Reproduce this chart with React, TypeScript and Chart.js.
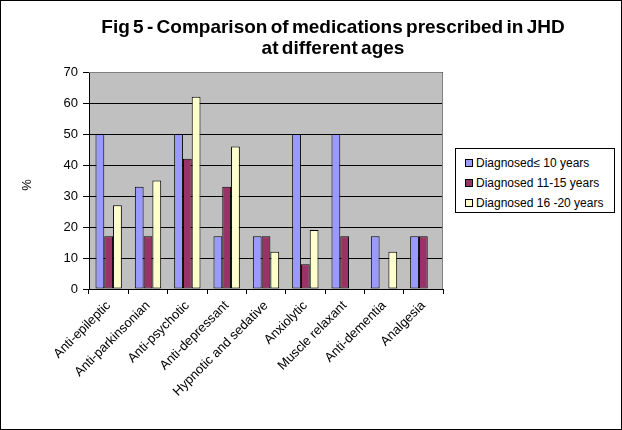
import React, { useEffect, useRef } from "react";
import { Chart, registerables } from "chart.js";

Chart.register(...registerables);

const categories = [
  "Anti-epileptic",
  "Anti-parkinsonian",
  "Anti-psychotic",
  "Anti-depressant",
  "Hypnotic and sedative",
  "Anxiolytic",
  "Muscle relaxant",
  "Anti-dementia",
  "Analgesia",
];
const seriesLabels = ["Diagnosed\u2264 10 years", "Diagnosed 11-15 years", "Diagnosed 16 -20 years"];
const under10 = [50, 33, 50, 17, 17, 50, 50, 17, 17];
const age11to15 = [17, 17, 42, 33, 17, 8, 17, 0, 17];
const age16to20 = [27, 35, 62, 46, 12, 19, 0, 12, 0];
const seriesColors = ["#9999FF", "#993366", "#FFFFCC"];
const yTicks = [0, 10, 20, 30, 40, 50, 60, 70];

const W = 622;
const H = 430;
const PLOT_LEFT = 89;
const PLOT_RIGHT = 443;
const PLOT_TOP = 72;
const PLOT_BOTTOM = 289;

const bgPlugin = {
  id: "plotBg",
  beforeDraw(chart: any) {
    const { ctx, chartArea } = chart;
    ctx.save();
    ctx.fillStyle = "#C0C0C0";
    ctx.fillRect(chartArea.left, chartArea.top, chartArea.right - chartArea.left, chartArea.bottom - chartArea.top);
    ctx.restore();
  },
  afterDraw(chart: any) {
    const { ctx, chartArea } = chart;
    ctx.save();
    ctx.strokeStyle = "#808080";
    ctx.lineWidth = 1;
    ctx.beginPath();
    ctx.moveTo(chartArea.left, chartArea.top + 0.5);
    ctx.lineTo(chartArea.right - 0.5, chartArea.top + 0.5);
    ctx.lineTo(chartArea.right - 0.5, chartArea.bottom);
    ctx.stroke();
    ctx.restore();
  },
};

export default function App() {
  const ref = useRef<HTMLCanvasElement | null>(null);

  useEffect(() => {
    if (!ref.current) return;
    const datasets = [under10, age11to15, age16to20].map((d, i) => ({
      label: seriesLabels[i],
      data: d,
      backgroundColor: seriesColors[i],
      borderColor: "#000000",
      borderWidth: 1,
      borderSkipped: false as any,
      categoryPercentage: 0.67,
      barPercentage: 1,
    }));
    const chart = new Chart(ref.current, {
      type: "bar",
      data: { labels: categories, datasets },
      plugins: [bgPlugin],
      options: {
        animation: false,
        responsive: false,
        maintainAspectRatio: false,
        devicePixelRatio: 1,
        layout: {
          padding: { left: 0, right: W - PLOT_RIGHT, top: PLOT_TOP, bottom: 0 },
        },
        plugins: {
          legend: { display: false },
          title: { display: false },
          tooltip: { enabled: false },
        },
        scales: {
          x: {
            offset: true,
            grid: {
              display: true,
              offset: true,
              drawOnChartArea: false,
              drawTicks: true,
              tickLength: 5,
              color: "#000000",
            },
            border: { display: true, color: "#000000", width: 1 },
            ticks: {
              minRotation: 45,
              maxRotation: 45,
              autoSkip: false,
              color: "#000000",
              padding: 4,
              font: { family: "Arial, 'Liberation Sans'", size: 13 },
            },
            afterFit(scale: any) {
              scale.height = H - PLOT_BOTTOM;
            },
          },
          y: {
            min: 0,
            max: 70,
            afterBuildTicks(scale: any) {
              scale.ticks = yTicks.map((v) => ({ value: v }));
            },
            grid: {
              color: "#000000",
              drawTicks: true,
              tickLength: 6,
            },
            border: { display: true, color: "#000000", width: 1 },
            ticks: {
              color: "#000000",
              padding: 5,
              font: { family: "Arial, 'Liberation Sans'", size: 13 },
            },
            afterFit(scale: any) {
              scale.width = PLOT_LEFT;
            },
          },
        },
      },
    });
    return () => chart.destroy();
  }, []);

  const font = "Arial, 'Liberation Sans', sans-serif";

  return (
    <div
      style={{
        position: "fixed",
        left: 0,
        top: 0,
        width: W,
        height: H,
        background: "#ffffff",
        overflow: "hidden",
        fontFamily: font,
      }}
    >
      <canvas ref={ref} width={W} height={H} style={{ position: "absolute", left: 0, top: 0, width: W, height: H }} />
      <div
        style={{
          position: "absolute",
          left: 0,
          top: 0,
          width: W,
          height: H,
          border: "1px solid #000",
          boxSizing: "border-box",
          pointerEvents: "none",
        }}
      />
      <div
        style={{
          position: "absolute",
          left: 83,
          width: 500,
          top: 16,
          textAlign: "center",
          fontWeight: "bold",
          fontSize: 19,
          wordSpacing: -2,
          lineHeight: "21px",
          color: "#000",
        }}
      >
        Fig 5 - Comparison of medications prescribed in JHD
        <br />
        at different ages
      </div>
      <div
        style={{
          position: "absolute",
          left: 20,
          top: 177,
          width: 14,
          height: 16,
          lineHeight: "16px",
          textAlign: "center",
          fontSize: 13,
          color: "#000",
          transform: "rotate(-90deg)",
        }}
      >
        %
      </div>
      <div
        style={{
          position: "absolute",
          left: 455,
          top: 148,
          width: 160,
          height: 65,
          border: "1px solid #000",
          boxSizing: "border-box",
          background: "#fff",
          paddingTop: 4,
        }}
      >
        {seriesLabels.map((l, i) => (
          <div key={l} style={{ display: "flex", alignItems: "center", height: 20, paddingLeft: 9, fontSize: 12, color: "#000" }}>
            <span
              style={{
                display: "inline-block",
                width: 6,
                height: 6,
                border: "1px solid #000",
                background: seriesColors[i],
                marginRight: 3,
              }}
            />
            {l}
          </div>
        ))}
      </div>
    </div>
  );
}
